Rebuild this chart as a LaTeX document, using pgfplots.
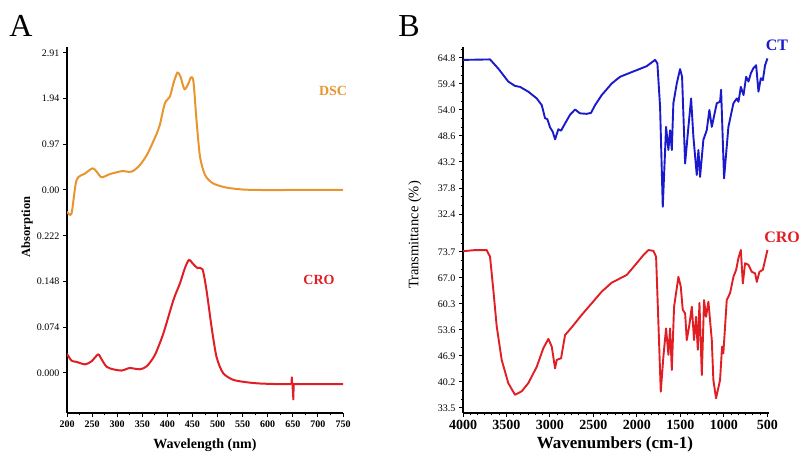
\documentclass[border=0pt]{standalone}
\usepackage{fontspec}
\setmainfont{Liberation Serif}
\usepackage{pgfplots}
\pgfplotsset{compat=1.18}
\definecolor{dscorange}{HTML}{E8952F}
\definecolor{crored}{HTML}{E01E24}
\definecolor{ctblue}{HTML}{1A1ACC}
\pgfplotsset{
  base/.style={scale only axis, anchor=south west,
    /pgf/number format/assume math mode=true,
    /pgf/number format/1000 sep={},
    tick align=outside, major tick length=4pt, minor tick length=2.4pt,
    every tick/.style={black, line width=1pt},
    axis line style={line width=1.6pt, -}},
  upper/.style={axis x line=none, axis y line*=left},
  lower/.style={axis x line*=bottom, axis y line*=left},
  panelA/.style={base, width=276pt, xmin=200, xmax=750,
    xtick={200,250,...,750}, minor x tick num=1,
    xticklabel style={font=\bfseries\fontsize{10}{11}\selectfont},
    yticklabel style={font=\fontsize{10}{11}\selectfont}},
  panelB/.style={base, width=306pt, xmin=480, xmax=4000, x dir=reverse,
    xtick={500,1000,...,4000}, minor x tick num=5,
    xticklabel style={font=\bfseries\fontsize{14}{15}\selectfont},
    yticklabel style={font=\fontsize{10}{11}\selectfont}},
}
\begin{document}
\begin{tikzpicture}[x=1pt,y=1pt]
\useasboundingbox (0,0) rectangle (800,455);
% ---------- Panel A, upper (DSC)
\begin{axis}[panelA, upper, at={(67pt,230pt)}, height=178pt,
  ymin=-0.743, ymax=3.035,
  ytick={0,0.97,1.94,2.91}, yticklabels={0.00,0.97,1.94,2.91}]
\addplot[dscorange, line width=2pt, smooth, tension=0.45] coordinates {
(200,-0.46) (209,-0.50) (219,0.21) (236,0.35) (251,0.46) (259,0.39) (269,0.27)
(286,0.34) (309,0.40) (319,0.39) (329,0.39) (342,0.49) (359,0.74) (379,1.20)
(385,1.38) (395,1.84) (405,1.98) (412,2.26) (420,2.49) (426,2.41) (434,2.14)
(442,2.26) (447,2.39) (452,2.30) (458,1.49) (465,0.71) (475,0.32) (491,0.14)
(518,0.05) (551,0.01) (584,0.00) (650,0.00) (700,0.00) (750,0.00)};
\end{axis}
% ---------- Panel A, lower (CRO)
\begin{axis}[panelA, lower, at={(67pt,42pt)}, height=188pt,
  ymin=-0.0648, ymax=0.2397,
  ytick={0,0.074,0.148,0.222}, yticklabels={0.000,0.074,0.148,0.222}]
\addplot[crored, line width=2pt, smooth, tension=0.45] coordinates {
(200,0.031) (209,0.020) (219,0.018) (236,0.014) (249,0.019) (262,0.030) (269,0.022)
(279,0.010) (292,0.006) (309,0.004) (325,0.008) (345,0.006) (359,0.011) (375,0.029)
(392,0.064) (412,0.118) (425,0.145) (435,0.170) (443,0.183) (452,0.176) (460,0.170)
(470,0.168) (478,0.134) (488,0.075) (498,0.026) (511,0.000) (531,-0.011) (558,-0.015)
(584,-0.017) (620,-0.018) (647,-0.018)};
\addplot[crored, line width=1.8pt] coordinates {
(647,-0.018) (648,-0.006) (650,-0.030) (651,-0.044) (652,-0.018) (700,-0.018) (750,-0.018)};
\end{axis}
% ---------- Panel B, upper (CT)
\begin{axis}[panelB, upper, at={(463pt,225pt)}, height=183pt,
  ymin=29.08, ymax=67.08,
  ytick={32.4,37.8,43.2,48.6,54.0,59.4,64.8},
  yticklabels={32.4,37.8,43.2,48.6,54.0,59.4,64.8},
  minor ytick={30.6,34.2,36.0,39.6,41.4,45.0,46.8,50.4,52.2,55.8,57.6,61.2,63.0,66.6}]
\addplot[ctblue, line width=1.9pt, line join=round] coordinates {
(4000,64.4) (3689,64.5) (3594,62.6) (3479,59.9) (3402,59.0) (3344,58.8) (3249,57.8)
(3152,56.4) (3094,55.0) (3056,52.3) (3030,52.1) (2999,50.4) (2968,49.5) (2941,47.9)
(2903,50.0) (2872,49.7) (2826,51.2) (2769,53.0) (2711,54.1) (2654,53.3) (2577,53.2)
(2527,53.4) (2481,55.0) (2404,57.1) (2289,59.5) (2193,60.9) (2040,62.0) (1886,63.1)
(1791,64.4) (1764,63.7) (1733,54.7) (1702,33.9) (1664,50.5) (1637,45.7) (1618,49.8)
(1598,45.7) (1580,55.4) (1541,59.5) (1503,62.5) (1480,60.9) (1445,42.9) (1407,50.5)
(1376,56.4) (1350,48.5) (1311,40.5) (1292,45.7) (1273,40.1) (1235,47.8) (1196,49.8)
(1166,54.0) (1138,50.5) (1081,55.4) (1043,55.7) (1031,58.2) (997,39.8) (947,50.5)
(889,55.4) (850,56.4) (831,55.7) (804,58.8) (773,57.1) (743,60.9) (716,59.9)
(689,61.6) (659,62.7) (628,63.3) (601,57.8) (574,60.6) (551,60.2) (525,63.3) (498,64.7)};
\end{axis}
% ---------- Panel B, lower (CRO)
\begin{axis}[panelB, lower, at={(463pt,42pt)}, height=183pt,
  ymin=32.21, ymax=79.37,
  ytick={33.5,40.2,46.9,53.6,60.3,67.0,73.7},
  yticklabels={33.5,40.2,46.9,53.6,60.3,67.0,73.7},
  minor ytick={35.73,37.97,42.43,44.67,49.13,51.37,55.83,58.07,62.53,64.77,69.23,71.47,75.93,78.17}]
\addplot[crored, line width=1.9pt, line join=round] coordinates {
(4000,73.9) (3862,74.2) (3728,74.2) (3689,72.5) (3651,63.9) (3612,54.5) (3555,45.9)
(3479,39.9) (3402,36.9) (3325,37.8) (3249,39.9) (3152,44.1) (3076,48.9) (3018,51.3)
(2979,49.3) (2941,43.7) (2922,45.9) (2872,46.3) (2826,52.3) (2749,54.3) (2634,57.5)
(2519,60.5) (2404,63.5) (2289,65.8) (2193,66.9) (2116,67.8) (2021,70.3) (1925,72.9)
(1867,74.2) (1810,74.0) (1779,72.5) (1752,55.3) (1725,37.7) (1695,46.7) (1664,54.0)
(1637,47.2) (1618,54.0) (1598,43.3) (1572,59.6) (1522,67.3) (1495,64.8) (1472,58.8)
(1445,57.9) (1426,51.0) (1396,54.9) (1368,59.6) (1342,51.0) (1319,57.0) (1299,48.5)
(1280,60.6) (1253,42.0) (1227,61.3) (1204,57.0) (1177,60.9) (1138,51.0) (1120,40.7)
(1089,36.0) (1043,40.7) (1020,49.3) (1005,47.6) (966,61.3) (928,63.1) (889,67.3)
(858,69.1) (832,72.1) (804,74.2) (781,65.6) (755,70.8) (717,70.4) (678,68.6)
(640,68.2) (620,66.0) (590,68.6) (551,69.1) (498,74.2)};
\end{axis}
% ---------- texts
\node[font=\fontsize{32}{34}\selectfont] at (21,429) {A};
\node[font=\fontsize{32}{34}\selectfont] at (409,429) {B};
\node[rotate=90, font=\bfseries\fontsize{12.5}{13}\selectfont] at (27,228) {Absorption};
\node[rotate=90, font=\fontsize{14.5}{15}\selectfont] at (415,220) {Transmittance (\%)};
\node[font=\bfseries\fontsize{14}{15}\selectfont] at (205,10) {Wavelength (nm)};
\node[font=\bfseries\fontsize{17}{18}\selectfont] at (615,11) {Wavenumbers (cm-1)};
\node[font=\bfseries\fontsize{14}{15}\selectfont, text=dscorange] at (333,364) {DSC};
\node[font=\bfseries\fontsize{14}{15}\selectfont, text=crored] at (319,175) {CRO};
\node[font=\bfseries\fontsize{16}{17}\selectfont, text=ctblue] at (777,410) {CT};
\node[font=\bfseries\fontsize{16}{17}\selectfont, text=crored, anchor=east, inner sep=0pt] at (800,218) {CRO};
\end{tikzpicture}
\end{document}
